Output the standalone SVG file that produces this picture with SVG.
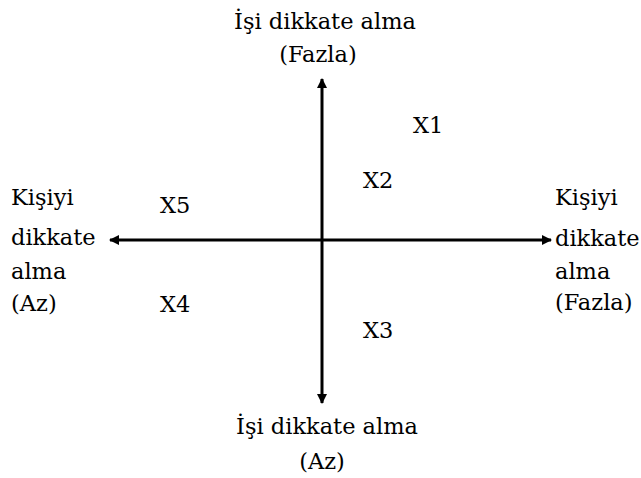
<svg xmlns="http://www.w3.org/2000/svg" width="641" height="478" viewBox="0 0 641 478">
<style>
text{font-family:'DejaVu Serif','Liberation Serif',serif;font-size:22.5px;fill:#000}
.c{text-anchor:middle}
.ax{stroke:#000;stroke-width:3;fill:none}
</style>
<defs>
<marker id="ah" viewBox="0 0 10 10" refX="9" refY="5" markerWidth="3.4" markerHeight="3.4" orient="auto" markerUnits="strokeWidth">
<path d="M0,0 L10,5 L0,10 z" fill="#000"/>
</marker>
</defs>
<rect width="641" height="478" fill="#fff"/>
<g id="connectors">
<line class="ax" x1="322" y1="240" x2="322" y2="79" marker-end="url(#ah)"/>
<line class="ax" x1="322" y1="240" x2="322" y2="403" marker-end="url(#ah)"/>
<line class="ax" x1="322" y1="240" x2="110" y2="240" marker-end="url(#ah)"/>
<line class="ax" x1="322" y1="240" x2="551" y2="240" marker-end="url(#ah)"/>
</g>
<g id="top-label">
<text class="c" x="325" y="29">İşi dikkate alma</text>
<text class="c" x="318" y="62">(Fazla)</text>
</g>
<g id="bottom-label">
<text class="c" x="327" y="434">İşi dikkate alma</text>
<text class="c" x="322" y="469">(Az)</text>
</g>
<g id="left-label">
<text x="11" y="205">Kişiyi</text>
<text x="11" y="245">dikkate</text>
<text x="11" y="279">alma</text>
<text x="11" y="311">(Az)</text>
</g>
<g id="right-label">
<text x="555" y="205">Kişiyi</text>
<text x="555" y="246">dikkate</text>
<text x="555" y="279">alma</text>
<text x="555" y="310">(Fazla)</text>
</g>
<g id="X1"><text x="413" y="133">X1</text></g>
<g id="X2"><text x="363" y="188">X2</text></g>
<g id="X3"><text x="363" y="338">X3</text></g>
<g id="X4"><text x="160" y="312">X4</text></g>
<g id="X5"><text x="160" y="213">X5</text></g>
</svg>
